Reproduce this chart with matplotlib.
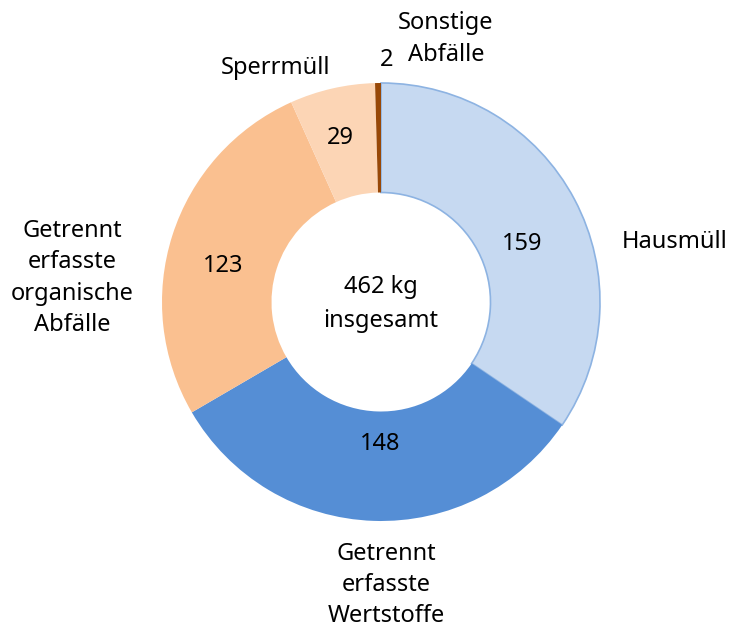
import matplotlib.pyplot as plt

# Haushaltsabfälle pro Kopf (kg)
categories = ['Hausmüll', 'Getrennt\nerfasste\nWertstoffe',
              'Getrennt\nerfasste\norganische\nAbfälle', 'Sperrmüll',
              'Sonstige\nAbfälle']
values = [159, 148, 123, 29, 2]
total_label = '462 kg\ninsgesamt'
colors = ['#c6d9f1', '#558ed5', '#fac090', '#fcd5b5', '#984807']

plt.rcParams['font.family'] = ['Noto Sans', 'DejaVu Sans']

W, H = 734, 628
fig = plt.figure(figsize=(W / 100, H / 100), dpi=100)
ax = fig.add_axes([0, 0, 1, 1])

cx, cy, R = 381, H - 302, 219
wedges, _ = ax.pie(values, colors=colors, startangle=90, counterclock=False,
                   center=(cx, cy), radius=R, frame=True,
                   wedgeprops=dict(width=R * 0.5, linewidth=0))
ax.set_xlim(0, W)
ax.set_ylim(0, H)
ax.set_aspect('equal')
ax.axis('off')
# thin blue outline around Hausmüll
wedges[0].set_edgecolor('#8db3e2')
wedges[0].set_linewidth(1.2)

fs = 17
# values inside the ring
val_pos = [(522, 244), (380, 444), (223, 266), (340, 138), (387, 60)]
for v, (x, y) in zip(values, val_pos):
    ax.text(x, H - y, str(v), ha='center', va='center', fontsize=fs)

# category labels outside
lab_pos = [(675, 242), (386, 585), (72, 278), (276, 68), (446, 39)]
for lab, (x, y) in zip(categories, lab_pos):
    ax.text(x, H - y, lab, ha='center', va='center', fontsize=fs,
            linespacing=1.4)

ax.text(cx, cy - 2, total_label, ha='center', va='center', fontsize=fs,
        linespacing=1.58)

fig.savefig('out.png', dpi=100)
